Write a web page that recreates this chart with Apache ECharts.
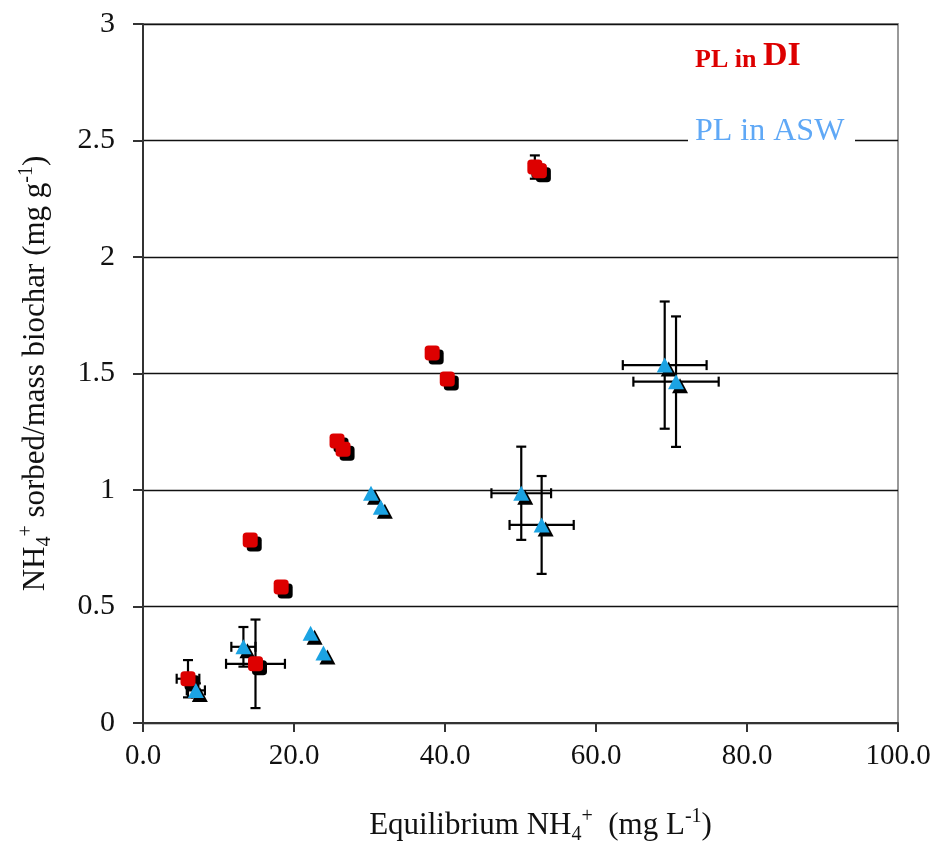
<!DOCTYPE html>
<html>
<head>
<meta charset="utf-8">
<script src="https://cdn.jsdelivr.net/npm/echarts@6/dist/echarts.min.js"></script>
<style>
html,body{margin:0;padding:0;background:#fff;}
#c{width:938px;height:844px;}
</style>
</head>
<body>
<div id="c"></div>
<script>
// PL in DI (red squares)
var diX    = [5.96, 14.2, 14.9, 18.3, 25.7, 26.5, 38.3, 40.3, 51.9, 52.5];
var diY    = [0.19, 0.785, 0.254, 0.584, 1.21, 1.175, 1.588, 1.476, 2.386, 2.37];
var diXErr = [1.5, 0, 3.9, 0, 0, 0, 0, 0, 0, 0];
var diYErr = [0.08, 0, 0.19, 0, 0, 0, 0, 0, 0.05, 0];
// PL in ASW (blue triangles)
var aswX    = [7.0, 13.3, 22.2, 23.9, 30.2, 31.5, 50.1, 52.8, 69.1, 70.6];
var aswY    = [0.14, 0.327, 0.385, 0.30, 0.986, 0.926, 0.986, 0.85, 1.536, 1.465];
var aswXErr = [1.2, 1.6, 0, 0, 0, 0, 3.95, 4.25, 5.55, 5.65];
var aswYErr = [0.03, 0.085, 0, 0, 0, 0, 0.2, 0.21, 0.273, 0.28];
// axes
var xTicks = [0, 20, 40, 60, 80, 100];
var yTicks = [0, 0.5, 1, 1.5, 2, 2.5, 3];

var FONT = '"Liberation Serif", "Times New Roman", serif';

function pts(xs, ys) { return xs.map(function (x, i) { return [x, ys[i]]; }); }
function errs(xs, ys, ex, ey) {
  return xs.map(function (x, i) { return [x, ys[i], ex[i], ey[i]]; });
}

function renderErr(params, api) {
  var x = api.value(0), y = api.value(1), ex = api.value(2), ey = api.value(3);
  var c = api.coord([x, y]);
  var children = [];
  var cap = 5;
  var st = { stroke: '#000', lineWidth: 2.2 };
  if (ex > 0) {
    var l = api.coord([x - ex, y]), r = api.coord([x + ex, y]);
    children.push({ type: 'line', shape: { x1: l[0], y1: c[1], x2: r[0], y2: c[1] }, style: st });
    children.push({ type: 'line', shape: { x1: l[0], y1: c[1] - cap, x2: l[0], y2: c[1] + cap }, style: st });
    children.push({ type: 'line', shape: { x1: r[0], y1: c[1] - cap, x2: r[0], y2: c[1] + cap }, style: st });
  }
  if (ey > 0) {
    var t = api.coord([x, y + ey]), b = api.coord([x, y - ey]);
    children.push({ type: 'line', shape: { x1: c[0], y1: t[1], x2: c[0], y2: b[1] }, style: st });
    children.push({ type: 'line', shape: { x1: c[0] - cap, y1: t[1], x2: c[0] + cap, y2: t[1] }, style: st });
    children.push({ type: 'line', shape: { x1: c[0] - cap, y1: b[1], x2: c[0] + cap, y2: b[1] }, style: st });
  }
  return { type: 'group', children: children };
}

var richTitle = {
  n: { fontFamily: FONT, fontSize: 31, color: '#111', lineHeight: 38, verticalAlign: 'middle' },
  sub: { fontFamily: FONT, fontSize: 20, color: '#111', lineHeight: 38, verticalAlign: 'bottom' },
  sup: { fontFamily: FONT, fontSize: 20, color: '#111', lineHeight: 38, verticalAlign: 'top' }
};

var chart = echarts.init(document.getElementById('c'), null, { renderer: 'canvas' });
var option = {
  animation: false,
  backgroundColor: '#fff',
  textStyle: { fontFamily: FONT },
  grid: {
    left: 143, right: 40, top: 24, bottom: 121,
    containLabel: false, outerBoundsMode: 'none',
    show: true, borderColor: '#999', borderWidth: 2, backgroundColor: 'transparent'
  },
  xAxis: {
    type: 'value', min: xTicks[0], max: xTicks[xTicks.length - 1], interval: 20,
    axisLine: { lineStyle: { color: '#333', width: 2 } },
    axisTick: { show: true, length: 9, lineStyle: { color: '#333', width: 2 } },
    splitLine: { show: false },
    axisLabel: { fontFamily: FONT, fontSize: 29, color: '#111', margin: 19,
      formatter: function (v) { return v.toFixed(1); } },
    name: '{n|Equilibrium NH}{sub|4}{sup|+}{n|  (mg L}{sup|-1}{n|)}',
    nameLocation: 'middle', nameGap: 84,
    nameTextStyle: { fontFamily: FONT, color: '#111', rich: richTitle, padding: [0, 0, 0, 40] }
  },
  yAxis: {
    type: 'value', min: yTicks[0], max: yTicks[yTicks.length - 1], interval: 0.5,
    axisLine: { show: true, lineStyle: { color: '#333', width: 2 } },
    axisTick: { show: true, length: 10, lineStyle: { color: '#333', width: 2 } },
    splitLine: { show: true, lineStyle: { color: '#111', width: 1.3 } },
    axisLabel: { fontFamily: FONT, fontSize: 30, color: '#111', margin: 28 },
    name: '{n|NH}{sub|4}{sup|+}{n| sorbed/mass biochar (mg g}{sup|-1}{n|)}',
    nameLocation: 'middle', nameGap: 88,
    nameTextStyle: { fontFamily: FONT, color: '#111', rich: richTitle }
  },
  series: [
    { type: 'custom', name: 'errDI', renderItem: renderErr, data: errs(diX, diY, diXErr, diYErr), z: 2, silent: true },
    { type: 'custom', name: 'errASW', renderItem: renderErr, data: errs(aswX, aswY, aswXErr, aswYErr), z: 2, silent: true },
    { type: 'scatter', name: 'DI shadow', data: pts(diX, diY), symbol: 'roundRect', symbolSize: 15,
      symbolOffset: [4, 4], itemStyle: { color: '#000', opacity: 1 }, z: 3, silent: true },
    { type: 'scatter', name: 'PL in DI', data: pts(diX, diY), symbol: 'roundRect', symbolSize: 15,
      itemStyle: { color: '#dd0000', opacity: 1 }, z: 4 },
    { type: 'scatter', name: 'ASW shadow', data: pts(aswX, aswY), symbol: 'triangle', symbolSize: [16, 15],
      symbolOffset: [4, 4], itemStyle: { color: '#000', opacity: 1 }, z: 3, silent: true },
    { type: 'scatter', name: 'PL in ASW', data: pts(aswX, aswY), symbol: 'triangle', symbolSize: [16, 15],
      itemStyle: { color: '#1ba3e3', opacity: 1 }, z: 4 }
  ],
  graphic: [
    { type: 'text', left: 695, top: 39, z: 10,
      style: { text: '{a|PL in }{b|DI}', fill: '#dd0000',
        rich: {
          a: { fontFamily: FONT, fontSize: 26, fontWeight: 'bold', fill: '#dd0000', verticalAlign: 'bottom', lineHeight: 36 },
          b: { fontFamily: FONT, fontSize: 34, fontWeight: 'bold', fill: '#dd0000', verticalAlign: 'bottom', lineHeight: 36 }
        } } },
    { type: 'rect', shape: { x: 688, y: 126, width: 167, height: 24 }, style: { fill: '#fff' }, z: 9 },
    { type: 'text', left: 695, top: 116, z: 10,
      style: { text: 'PL in ASW', fill: '#5fa8f6', font: '32px ' + FONT } }
  ]
};
chart.setOption(option);
</script>
</body>
</html>
